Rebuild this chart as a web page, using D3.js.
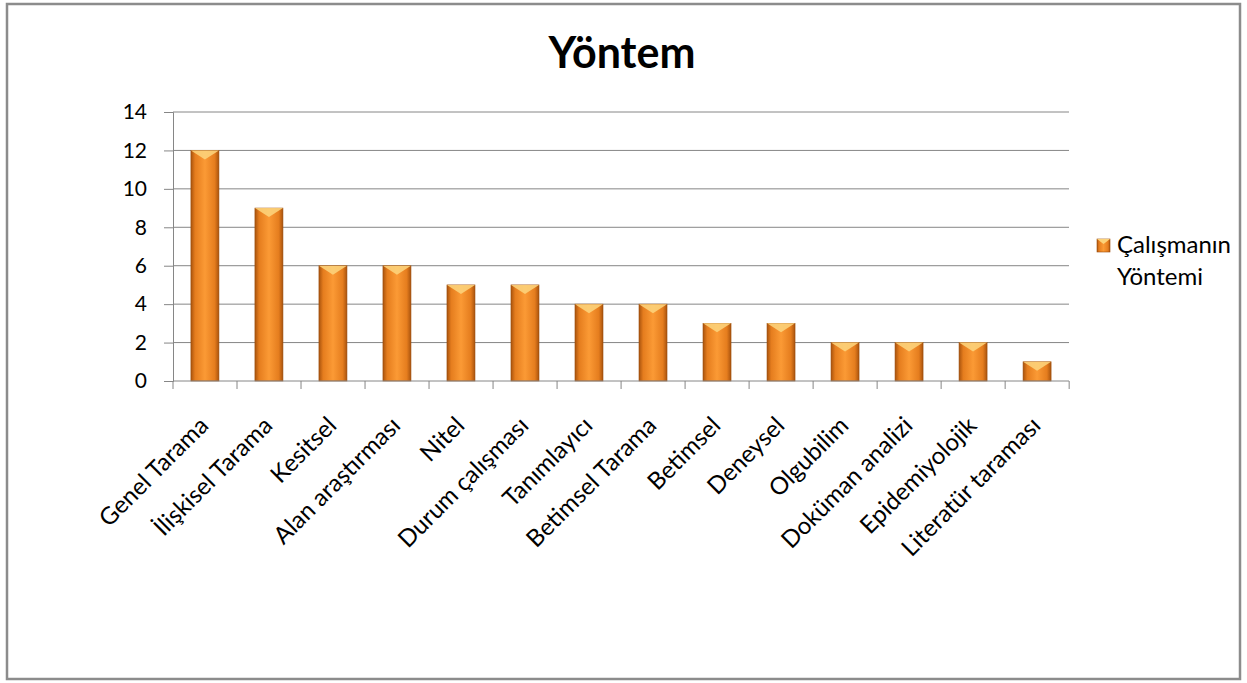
<!DOCTYPE html>
<html>
<head>
<meta charset="utf-8">
<script src="https://cdn.jsdelivr.net/npm/d3@7"></script>
<style>
  body { margin: 0; background: #fff; }
  svg text { font-family: Lato, "Open Sans", sans-serif; fill: #000; }
</style>
</head>
<body>
<svg width="1247" height="683"></svg>
<script>
var categories = ["Genel Tarama", "İlişkisel Tarama", "Kesitsel", "Alan araştırması", "Nitel",
  "Durum çalışması", "Tanımlayıcı", "Betimsel Tarama", "Betimsel", "Deneysel", "Olgubilim",
  "Doküman analizi", "Epidemiyolojik", "Literatür taraması"];
var values = [12, 9, 6, 6, 5, 5, 4, 4, 3, 3, 2, 2, 2, 1];
var yTicks = [0, 2, 4, 6, 8, 10, 12, 14];
var seriesName = ["Çalışmanın", "Yöntemi"];

var svg = d3.select("svg"),
    margin = {top: 112, left: 173},
    width = 896,
    height = 269;

// outer frame
svg.append("rect")
    .attr("x", 7).attr("y", 4)
    .attr("width", 1233).attr("height", 675)
    .attr("fill", "#fff")
    .attr("stroke", "#8c8c8c")
    .attr("stroke-width", 2.5);

var defs = svg.append("defs");
var grad = defs.append("linearGradient").attr("id", "barGrad")
    .attr("x1", "0%").attr("x2", "100%").attr("y1", "0%").attr("y2", "0%");
grad.append("stop").attr("offset", "0%").attr("stop-color", "#a9530d");
grad.append("stop").attr("offset", "15%").attr("stop-color", "#e57d1e");
grad.append("stop").attr("offset", "50%").attr("stop-color", "#fb9a35");
grad.append("stop").attr("offset", "85%").attr("stop-color", "#e57d1e");
grad.append("stop").attr("offset", "100%").attr("stop-color", "#a9530d");

var x = d3.scaleBand().domain(categories).range([0, width]).paddingInner(0.5625).paddingOuter(0.28),
    y = d3.scaleLinear().domain([0, 14]).range([height, 0]);

var g = svg.append("g")
    .attr("transform", "translate(" + margin.left + "," + margin.top + ")");

// gridlines
g.selectAll(".grid")
  .data(yTicks.filter(function(d) { return d > 0; }))
  .enter().append("line")
    .attr("x1", 0).attr("x2", width)
    .attr("y1", function(d) { return y(d); })
    .attr("y2", function(d) { return y(d); })
    .attr("stroke", "#868686");

// y axis
var yAxis = g.append("g")
    .call(d3.axisLeft(y).tickValues(yTicks).tickSize(9).tickPadding(17));
yAxis.select(".domain").attr("stroke", "#868686");
yAxis.selectAll(".tick line").attr("stroke", "#868686");
yAxis.selectAll("text").style("font-size", "21px").attr("fill", "#000");

// bars
var bars = g.selectAll(".bar")
  .data(values)
  .enter().append("g")
    .attr("class", "bar");

bars.append("rect")
    .attr("x", function(d, i) { return x(categories[i]); })
    .attr("y", function(d) { return y(d); })
    .attr("width", x.bandwidth())
    .attr("height", function(d) { return y(0) - y(d); })
    .attr("fill", "url(#barGrad)")
    .attr("stroke", "#9a4c0c")
    .attr("stroke-width", 0.6);

// bevel on top of each bar
bars.append("path")
    .attr("d", function(d, i) {
      var x0 = x(categories[i]), w = x.bandwidth(), t = y(d);
      return "M" + x0 + "," + t + "L" + (x0 + w) + "," + t +
             "L" + (x0 + w / 2) + "," + (t + 9) + "Z";
    })
    .attr("fill", "#fcd27a")
    .attr("opacity", 0.9);

// x axis
var xAxis = g.append("g")
    .attr("transform", "translate(0," + height + ")");
xAxis.append("line").attr("x1", 0).attr("x2", width).attr("stroke", "#868686");
xAxis.selectAll(".xt")
  .data(d3.range(categories.length + 1))
  .enter().append("line")
    .attr("x1", function(i) { return i * x.step(); })
    .attr("x2", function(i) { return i * x.step(); })
    .attr("y1", 0).attr("y2", 8)
    .attr("stroke", "#868686");

xAxis.selectAll(".xl")
  .data(categories)
  .enter().append("text")
    .attr("transform", function(d) {
      return "translate(" + (x(d) + x.bandwidth() / 2 + 5) + ",46) rotate(-45)";
    })
    .attr("text-anchor", "end")
    .style("font-size", "24px")
    .text(function(d) { return d; });

// title
svg.append("text")
    .attr("x", 622).attr("y", 68)
    .attr("text-anchor", "middle")
    .style("font-size", "43px")
    .style("font-weight", "bold")
    .text("Yöntem");

// legend
var leg = svg.append("g").attr("transform", "translate(1097,239)");
leg.append("rect")
    .attr("width", 13).attr("height", 13)
    .attr("fill", "url(#barGrad)")
    .attr("stroke", "#9a4c0c").attr("stroke-width", 0.6);
leg.append("path").attr("d", "M0,0L13,0L6.5,5Z").attr("fill", "#fcd27a");
leg.selectAll(".lt")
  .data(seriesName)
  .enter().append("text")
    .attr("x", 20)
    .attr("y", function(d, i) { return 14 + i * 32; })
    .style("font-size", "24px")
    .text(function(d) { return d; });
</script>
</body>
</html>
